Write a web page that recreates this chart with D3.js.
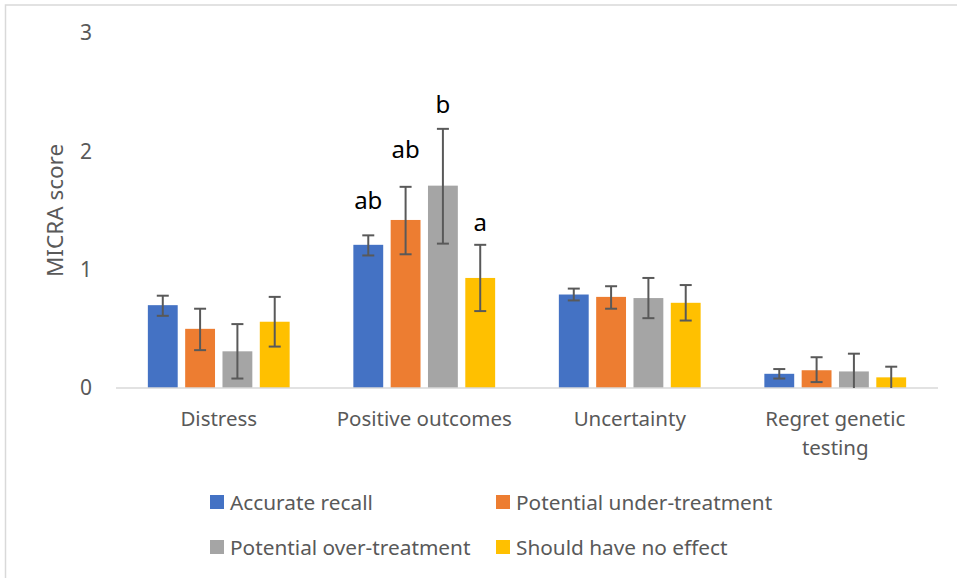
<!DOCTYPE html>
<html>
<head>
<meta charset="utf-8">
<script src="https://cdn.jsdelivr.net/npm/d3@7"></script>
<style>
  html, body { margin: 0; padding: 0; background: #fff; }
  svg { display: block; }
  text { font-family: "Noto Sans", "Open Sans", sans-serif; }
</style>
</head>
<body>
<svg id="chart" width="957" height="578"></svg>
<script>
// ---- data ----
const categories = ["Distress", "Positive outcomes", "Uncertainty", "Regret genetic testing"];
const seriesNames = ["Accurate recall", "Potential under-treatment", "Potential over-treatment", "Should have no effect"];
const seriesColors = ["#4472C4", "#ED7D31", "#A5A5A5", "#FFC000"];

const accurateRecall      = [0.70, 1.21, 0.79, 0.12];
const underTreatment      = [0.50, 1.42, 0.77, 0.15];
const overTreatment       = [0.31, 1.71, 0.76, 0.14];
const noEffect            = [0.56, 0.93, 0.72, 0.09];

const accurateRecallLow   = [0.61, 1.12, 0.74, 0.08];
const accurateRecallHigh  = [0.78, 1.29, 0.84, 0.16];
const underTreatmentLow   = [0.32, 1.13, 0.67, 0.05];
const underTreatmentHigh  = [0.67, 1.70, 0.86, 0.26];
const overTreatmentLow    = [0.08, 1.22, 0.59, 0.00];
const overTreatmentHigh   = [0.54, 2.19, 0.93, 0.29];
const noEffectLow         = [0.35, 0.65, 0.57, 0.00];
const noEffectHigh        = [0.77, 1.21, 0.87, 0.18];

const yTicks = [0, 1, 2, 3];
const yTitle = "MICRA score";

// significance letters (category, series index, text, baseline value in score units)
const sigLabels = [
  { cat: "Positive outcomes", s: 0, text: "ab", y: 1.51 },
  { cat: "Positive outcomes", s: 1, text: "ab", y: 1.94 },
  { cat: "Positive outcomes", s: 2, text: "b",  y: 2.32 },
  { cat: "Positive outcomes", s: 3, text: "a",  y: 1.33 }
];

const values = [accurateRecall, underTreatment, overTreatment, noEffect];
const lows   = [accurateRecallLow, underTreatmentLow, overTreatmentLow, noEffectLow];
const highs  = [accurateRecallHigh, underTreatmentHigh, overTreatmentHigh, noEffectHigh];

const rows = [];
categories.forEach((c, ci) => {
  seriesNames.forEach((s, si) => {
    rows.push({ cat: c, si: si, v: values[si][ci], lo: lows[si][ci], hi: highs[si][ci] });
  });
});

// ---- layout ----
const svg = d3.select("#chart");
const textColor = "#595959";
const fontSize = 20.5;

// outer border (chart area frame)
svg.append("rect")
  .attr("x", 5.5).attr("y", 5)
  .attr("width", 1000).attr("height", 1000)
  .attr("fill", "none").attr("stroke", "#d9d9d9").attr("stroke-width", 1.5);

const x0 = d3.scaleBand().domain(categories).range([116, 938]).paddingInner(0.31).paddingOuter(0.155);
const x1 = d3.scaleBand().domain(d3.range(seriesNames.length)).range([0, x0.bandwidth()]).paddingInner(0.2).paddingOuter(0);
const y = d3.scaleLinear().domain([0, 3]).range([388, 33]);

// y axis (labels only)
const yAxis = svg.append("g").attr("transform", "translate(92,0)")
  .call(d3.axisLeft(y).tickValues(yTicks).tickSize(0).tickPadding(0).tickFormat(d3.format("d")));
yAxis.select(".domain").remove();
yAxis.selectAll("text").attr("fill", textColor).style("font-size", "21px")
  .style("font-family", "'Noto Sans', sans-serif");

// y title
svg.append("text")
  .attr("transform", `translate(57,${(y(0) + y(3)) / 2}) rotate(-90)`)
  .attr("text-anchor", "middle").attr("dominant-baseline", "middle")
  .attr("fill", textColor).style("font-size", "22.5px")
  .text(yTitle);

// bars
const bars = svg.append("g");
bars.selectAll("rect").data(rows).join("rect")
  .attr("x", d => x0(d.cat) + x1(d.si))
  .attr("width", x1.bandwidth())
  .attr("y", d => y(d.v))
  .attr("height", d => y(0) - y(d.v))
  .attr("fill", d => seriesColors[d.si]);

// x axis line
const xAxis = svg.append("g").attr("transform", `translate(0,${y(0)})`)
  .call(d3.axisBottom(x0).tickSize(0).tickPadding(0).tickFormat(() => ""));
xAxis.select(".domain").attr("stroke", "#d9d9d9").attr("stroke-width", 1.5)
  .attr("d", `M${x0.range()[0]},0H${x0.range()[1]}`);

// error bars
const eb = svg.append("g").attr("stroke", "#595959").attr("stroke-width", 2).attr("fill", "none");
const cap = 6;
rows.forEach(d => {
  const cx = x0(d.cat) + x1(d.si) + x1.bandwidth() / 2;
  eb.append("line").attr("x1", cx).attr("x2", cx).attr("y1", y(d.lo)).attr("y2", y(d.hi));
  eb.append("line").attr("x1", cx - cap).attr("x2", cx + cap).attr("y1", y(d.hi)).attr("y2", y(d.hi));
  if (d.lo > 0) {
    eb.append("line").attr("x1", cx - cap).attr("x2", cx + cap).attr("y1", y(d.lo)).attr("y2", y(d.lo));
  }
});

// category labels with wrapping
const step = x0.step();
const catG = svg.append("g");
categories.forEach(c => {
  const t = catG.append("text")
    .attr("x", x0(c) + x0.bandwidth() / 2).attr("y", 426)
    .attr("text-anchor", "middle").attr("fill", textColor)
    .style("font-size", fontSize + "px");
  const words = c.split(" ");
  let line = [];
  let tspan = t.append("tspan").attr("x", x0(c) + x0.bandwidth() / 2).attr("dy", 0);
  words.forEach(w => {
    line.push(w);
    tspan.text(line.join(" "));
    if (tspan.node().getComputedTextLength() > step - 10 && line.length > 1) {
      line.pop();
      tspan.text(line.join(" "));
      line = [w];
      tspan = t.append("tspan").attr("x", x0(c) + x0.bandwidth() / 2).attr("dy", 29).text(w);
    }
  });
});

// significance letters
svg.append("g").selectAll("text").data(sigLabels).join("text")
  .attr("x", d => x0(d.cat) + x1(d.s) + x1.bandwidth() / 2)
  .attr("y", d => y(d.y))
  .attr("text-anchor", "middle").attr("fill", "#000")
  .style("font-size", "24px")
  .text(d => d.text);

// legend
const legendCols = [210, 496];
const legendRows = [502, 547];
const lg = svg.append("g");
seriesNames.forEach((s, i) => {
  const lx = legendCols[i % 2];
  const ly = legendRows[Math.floor(i / 2)];
  lg.append("rect").attr("x", lx).attr("y", ly - 7).attr("width", 14).attr("height", 14)
    .attr("fill", seriesColors[i]);
  lg.append("text").attr("x", lx + 20).attr("y", ly)
    .attr("dominant-baseline", "central").attr("fill", textColor)
    .style("font-size", "20.8px").text(s);
});
</script>
</body>
</html>
